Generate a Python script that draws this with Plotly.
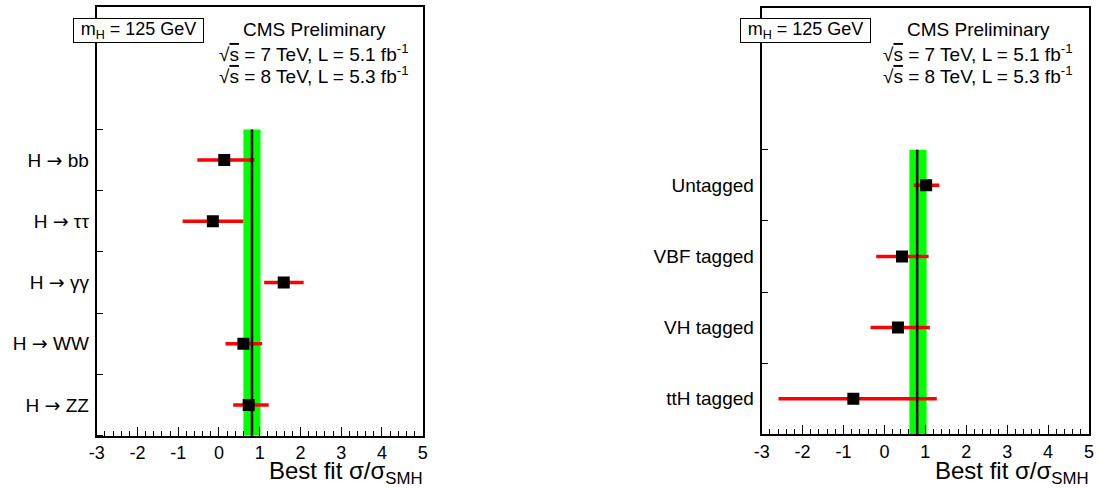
import plotly.graph_objects as go

W, H = 1099, 488
FONT = "Liberation Sans, Arial, Helvetica, sans-serif"
ARROW = "<span style='font-family:DejaVu Sans'>→</span>"

# ---------------- data ----------------
decay_labels = ["H → bb", "H → ττ", "H → γγ", "H → WW", "H → ZZ"]
decay_mu = [0.13, -0.15, 1.59, 0.60, 0.73]
decay_lo = [-0.53, -0.89, 1.11, 0.16, 0.35]
decay_hi = [0.87, 0.60, 2.08, 1.06, 1.22]
decay_comb = 0.81
decay_band = [0.60, 1.02]

tag_labels = ["Untagged", "VBF tagged", "VH tagged", "ttH tagged"]
tag_mu = [1.02, 0.43, 0.33, -0.76]
tag_lo = [0.72, -0.20, -0.34, -2.59]
tag_hi = [1.34, 1.08, 1.11, 1.28]
tag_comb = 0.80
tag_band = [0.61, 1.03]

x_ticks = [-3, -2, -1, 0, 1, 2, 3, 4, 5]
x_range = [-3, 5]

box_text = "m<sub>H</sub> = 125 GeV"
cms_lines = ["CMS Preliminary",
             "√<span style='text-decoration:overline'>s</span> = 7 TeV, L = 5.1 fb<sup>-1</sup>",
             "√<span style='text-decoration:overline'>s</span> = 8 TeV, L = 5.3 fb<sup>-1</sup>"]
x_title = "Best fit σ/σ<sub>SMH</sub>"


def px(x):
    return x / W


def py(y):
    return 1 - y / H


fig = go.Figure()

panels = [
    dict(labels=decay_labels, mu=decay_mu, lo=decay_lo, hi=decay_hi, comb=decay_comb,
         band=decay_band, ytop=7, xdom=[96.7, 422.7], ydom=[435.7, 7.0],
         box_cx=138.7, cms_cx=314.0),
    dict(labels=tag_labels, mu=tag_mu, lo=tag_lo, hi=tag_hi, comb=tag_comb,
         band=tag_band, ytop=6, xdom=[761.7, 1089.0], ydom=[434.3, 7.5],
         box_cx=805.5, cms_cx=978.0),
]

annotations = []
shapes = []
for k, p in enumerate(panels, start=1):
    xa = "x" if k == 1 else f"x{k}"
    ya = "y" if k == 1 else f"y{k}"
    n = len(p["labels"])
    ypos = [n - 0.5 - i for i in range(n)]

    shapes.append(dict(type="rect", xref=xa, yref=ya, x0=p["band"][0], x1=p["band"][1],
                       y0=0, y1=n, fillcolor="#00ff00", line=dict(width=0), layer="below"))

    fig.add_trace(go.Scatter(
        x=p["mu"], y=ypos, xaxis=xa, yaxis=ya, mode="markers",
        marker=dict(symbol="square", size=12, color="black"),
        error_x=dict(type="data", symmetric=False,
                     array=[h - m for h, m in zip(p["hi"], p["mu"])],
                     arrayminus=[m - l for m, l in zip(p["mu"], p["lo"])],
                     color="#ff0000", thickness=3.5, width=0),
        showlegend=False, hoverinfo="skip"))

    fig.add_trace(go.Scatter(
        x=[p["comb"], p["comb"]], y=[0, n], xaxis=xa, yaxis=ya, mode="lines",
        line=dict(color="black", width=2.5), showlegend=False, hoverinfo="skip"))

    axis_common = dict(showline=True, linecolor="black", linewidth=2, mirror=True,
                       showgrid=False, zeroline=False, automargin=False)
    fig.update_layout(**{
        ("xaxis" if k == 1 else f"xaxis{k}"): dict(
            axis_common, domain=[px(p["xdom"][0]), px(p["xdom"][1])], anchor=ya,
            range=x_range, tickmode="array", tickvals=x_ticks,
            ticktext=[str(t) for t in x_ticks],
            ticks="inside", ticklen=9, tickwidth=1, tickcolor="black",
            minor=dict(dtick=0.2, tick0=-3, ticks="inside", ticklen=5, tickwidth=1,
                       tickcolor="black"),
            tickfont=dict(family=FONT, size=18, color="black")),
        ("yaxis" if k == 1 else f"yaxis{k}"): dict(
            axis_common, domain=[py(p["ydom"][0]), py(p["ydom"][1])], anchor=xa,
            range=[0, p["ytop"]], tickmode="array", tickvals=ypos,
            ticktext=[s.replace("→", ARROW) for s in p["labels"]],
            ticks="", ticklabelstandoff=2,
            minor=dict(tickmode="array", tickvals=list(range(0, n + 1)), ticks="inside",
                       ticklen=6, tickwidth=1, tickcolor="black"),
            tickfont=dict(family=FONT, size=19, color="black")),
    })

    annotations.append(dict(text=box_text, xref="paper", yref="paper",
                            x=px(p["box_cx"]), y=py(30.7), xanchor="center", yanchor="middle",
                            showarrow=False, font=dict(family=FONT, size=18, color="black"),
                            bordercolor="black", borderwidth=1, bgcolor="white",
                            width=127, height=21, borderpad=1))
    for j, (txt, yc) in enumerate(zip(cms_lines, [29.0, 52.7, 75.0])):
        annotations.append(dict(text=txt, xref="paper", yref="paper",
                                x=px(p["cms_cx"]), y=py(yc), xanchor="center", yanchor="middle",
                                showarrow=False, font=dict(family=FONT, size=19, color="black")))
    annotations.append(dict(text=x_title, xref="paper", yref="paper",
                            x=px(p["xdom"][1] + 2), y=py(472), xanchor="right", yanchor="middle",
                            showarrow=False, font=dict(family=FONT, size=24, color="black")))

fig.update_layout(width=W, height=H, margin=dict(l=0, r=0, t=0, b=0),
                  paper_bgcolor="white", plot_bgcolor="white",
                  annotations=annotations, shapes=shapes)

fig.write_html("out.html")
